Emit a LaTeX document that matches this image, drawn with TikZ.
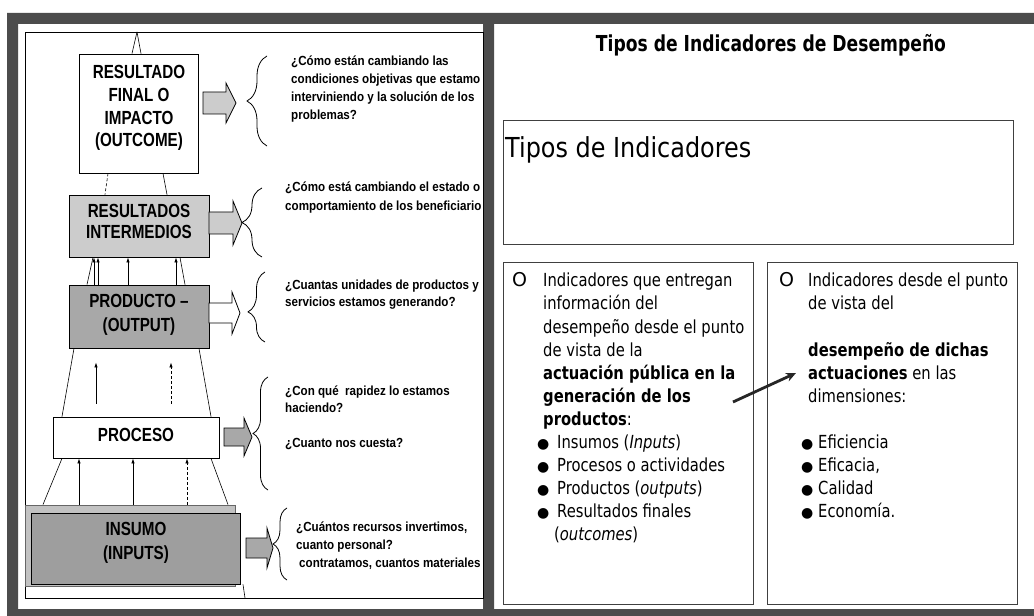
\documentclass[tikz,border=0pt]{standalone}
\usepackage{fontspec}
\setmainfont{Liberation Sans}
\newfontfamily\boxfont[FakeStretch=0.8]{Liberation Sans}
\newfontfamily\qfont[FakeStretch=0.88]{Liberation Sans}
\newfontfamily\tfont[FakeStretch=0.82]{DejaVu Sans}
\newfontfamily\titlefont[FakeStretch=0.78]{DejaVu Sans}
\newfontfamily\bigfont[FakeStretch=0.87]{DejaVu Sans}
\newfontfamily\symfont{DejaVu Sans}
\usetikzlibrary{arrows.meta,decorations.pathreplacing,calc}
\definecolor{bandgray}{gray}{0.3}
\definecolor{ligray}{gray}{0.8}
\definecolor{midgray}{gray}{0.66}
\definecolor{dkgray}{gray}{0.62}
\definecolor{backgray}{gray}{0.76}
\newcommand{\fatarrow}[7]{%
  \draw[blockarrow, fill=#7] (#1,#4-#5) -- (#2,#4-#5) -- (#2,#4-#6) -- (#3,#4) -- (#2,#4+#6) -- (#2,#4+#5) -- (#1,#4+#5) -- cycle;}
\newcommand{\mybulA}{\makebox[20bp][l]{\symfont\fontsize{14bp}{14bp}\selectfont ●}}
\newcommand{\mybulB}{\makebox[17bp][l]{\symfont\fontsize{14bp}{14bp}\selectfont ●}}
\begin{document}
\begin{tikzpicture}[x=1bp,y=-1bp,
  box/.style={draw=black, line width=0.9bp, inner sep=0pt},
  boxtext/.style={inner sep=0pt, align=center, font={\boxfont\bfseries\fontsize{19bp}{22.5bp}\selectfont}},
  question/.style={anchor=base west, inner sep=0pt},
  blockarrow/.style={draw=black, line width=0.8bp, line join=miter},
  uparrow/.style={line width=0.7bp, -{Latex[length=5bp,width=3.5bp]}},
  edge/.style={line width=0.6bp},
  bracestyle/.style={line width=0.8bp, decorate},
  panelbox/.style={draw=black!75, line width=0.9bp, inner sep=0pt},
  paneltext/.style={anchor=base west, inner sep=0pt},
  thickarrow/.style={line width=2.8bp, -{Stealth[length=10bp,width=9bp]}, black!85}
]
\useasboundingbox (0,0) rectangle (1034,616);
\fill[white] (0,0) rectangle (1034,616);
% frame band
\fill[bandgray, even odd rule] (7,13) rectangle (1034,616)
  (18,24) rectangle (483,609) (494,24) rectangle (1034,609);
% left panel inner frame
\draw[line width=0.9bp] (25,32) rectangle (483,598);

\begin{scope}
\clip (18,24) rectangle (483,609);
% boxes
\node[box, fill=white, minimum width=119bp, minimum height=119bp] (impacto) at (138.5,113.5) {};
\node[box, fill=ligray, minimum width=140bp, minimum height=62bp] (interm) at (139,226) {};
\node[box, fill=midgray, minimum width=140bp, minimum height=63bp] (producto) at (139,316.5) {};
\node[box, fill=white, minimum width=166bp, minimum height=41bp] (proceso) at (136,437.5) {};
\node[box, fill=backgray, draw=black!60, minimum width=210bp, minimum height=81bp] (insumoback) at (130,545.5) {};
\node[box, fill=dkgray, minimum width=209bp, minimum height=71bp] (insumo) at (135.5,548.5) {};
% box texts
\node[boxtext, font={\boxfont\bfseries\fontsize{19bp}{22.7bp}\selectfont}] (impactoT) at (139,108) {RESULTADO\\FINAL O\\IMPACTO\\(OUTCOME)};
\node[boxtext, font={\boxfont\bfseries\fontsize{19bp}{21.5bp}\selectfont}] (intermT) at (139,221.5) {RESULTADOS\\INTERMEDIOS};
\node[boxtext, font={\boxfont\bfseries\fontsize{19bp}{24bp}\selectfont}] (productoT) at (139,314.5) {PRODUCTO –\\(OUTPUT)};
\node[boxtext] (procesoT) at (136,434.5) {PROCESO};
\node[boxtext, font={\boxfont\bfseries\fontsize{19bp}{24bp}\selectfont}] (insumoT) at (136,543) {INSUMO\\(INPUTS)};

% pyramid edges
\coordinate (apex) at (137,32);
\coordinate (frameB) at (245,598);
\draw[edge] (impacto.north -| 132,0) -- (apex);
\draw[edge] (impacto.north -| 141,0) -- (apex);
\draw[edge, densely dashed] (impacto.south -| 108,0) -- (interm.north -| 105,0);
\draw[edge] (impacto.south -| 163,0) -- (interm.north -| 167,0);
\draw[edge] (interm.south -| 93,0) -- (producto.north -| 87,0);
\draw[edge] (interm.south -| 180,0) -- (producto.north -| 185,0);
\draw[edge] (producto.south -| 74,0) -- (proceso.north -| 62,0);
\draw[edge] (producto.south -| 199,0) -- (proceso.north -| 211,0);
\draw[edge] (proceso.south -| 62,0) -- (insumoback.north -| 43,0);
\draw[edge] (proceso.south -| 211,0) -- (insumoback.north -| 228,0);
\draw[edge] (insumo.south -| 243,0) -- (frameB);

% small up arrows
\draw[uparrow] (producto.north -| 94,0) -- (interm.south -| 94,0);
\draw[uparrow] (producto.north -| 98,0) -- (interm.south -| 98,0);
\draw[uparrow] (producto.north -| 128,0) -- (interm.south -| 128,0);
\draw[uparrow] (producto.north -| 176,0) -- (interm.south -| 176,0);
\draw[uparrow, shorten <=13bp, shorten >=14bp] (proceso.north -| 96,0) -- (producto.south -| 96,0);
\draw[uparrow, densely dashed, shorten <=13bp, shorten >=14bp] (proceso.north -| 171,0) -- (producto.south -| 171,0);
\draw[uparrow] (insumoback.north -| 79,0) -- (proceso.south -| 79,0);
\draw[uparrow] (insumoback.north -| 133,0) -- (proceso.south -| 133,0);
\draw[uparrow, densely dashed] (insumoback.north -| 187,0) -- (proceso.south -| 187,0);

% block arrows
\fatarrow{203}{226}{236}{103}{11}{20}{ligray}
\fatarrow{209}{233}{242}{223}{11}{22}{ligray}
\fatarrow{209}{232}{240}{313}{10}{21}{white}
\fatarrow{224}{244}{252}{437}{9}{19}{midgray}
\fatarrow{246}{267}{273}{548}{10}{20}{midgray}

% braces
\draw[bracestyle, decoration={brace, amplitude=20bp}] (267,146) -- (267,56);
\draw[bracestyle, decoration={brace, amplitude=20bp}] (262,257) -- (262,188);
\draw[bracestyle, decoration={brace, amplitude=17bp, aspect=0.43}] (265,342) -- (265,272);
\draw[bracestyle, decoration={brace, amplitude=15bp}] (268,490) -- (268,377);
\draw[bracestyle, decoration={brace, amplitude=14bp}] (287,580) -- (287,508);

% questions
\node[question] (q1) at (291,66) {\qfont\bfseries\fontsize{13.2bp}{18bp}\selectfont
  \begin{tabular}[t]{@{}l@{}}¿Cómo están cambiando las\\condiciones objetivas que estamo\\interviniendo y la solución de los\\problemas?\end{tabular}};
\node[question] (q2) at (285,192) {\qfont\bfseries\fontsize{13.2bp}{19bp}\selectfont
  \begin{tabular}[t]{@{}l@{}}¿Cómo está cambiando el estado o\\comportamiento de los beneficiario\end{tabular}};
\node[question] (q3) at (285,290) {\qfont\bfseries\fontsize{13.2bp}{17bp}\selectfont
  \begin{tabular}[t]{@{}l@{}}¿Cuantas unidades de productos y\\servicios estamos generando?\end{tabular}};
\node[question] (q4) at (285,395) {\qfont\bfseries\fontsize{13.2bp}{17bp}\selectfont
  \begin{tabular}[t]{@{}l@{}}¿Con qué\ \ rapidez lo estamos\\haciendo?\end{tabular}};
\node[question] (q4b) at (285,447) {\qfont\bfseries\fontsize{13.2bp}{17bp}\selectfont ¿Cuanto nos cuesta?};
\node[question] (q5) at (296,531) {\qfont\bfseries\fontsize{13.2bp}{18bp}\selectfont
  \begin{tabular}[t]{@{}l@{}}¿Cuántos recursos invertimos,\\cuanto personal?\\\hspace*{3bp}contratamos, cuantos materiales\end{tabular}};
\end{scope}

% right panel
\node[anchor=base, inner sep=0pt, font={\titlefont\bfseries\fontsize{22bp}{24bp}\selectfont}] (title) at (771,52) {Tipos de Indicadores de Desempeño};
\node[panelbox, minimum width=510bp, minimum height=124bp] (topbox) at (758,182) {};
\node[paneltext, font={\bigfont\fontsize{27.5bp}{30bp}\selectfont}] (toptext) at (505,158) {Tipos de Indicadores};
\node[panelbox, minimum width=250bp, minimum height=342bp] (leftbox) at (628,433) {};
\node[panelbox, minimum width=250bp, minimum height=342bp] (rightbox) at (892,433) {};

\node[paneltext, font={\symfont\fontsize{19bp}{19bp}\selectfont}] (o1) at (512,287) {O};
\node[paneltext, font={\symfont\fontsize{19bp}{19bp}\selectfont}] (o2) at (779,287) {O};

\node[paneltext] (ltext) at (543,287) {\tfont\fontsize{18bp}{23bp}\selectfont
  \begin{tabular}[t]{@{}l@{}}
  Indicadores que entregan\\
  información del\\
  desempeño desde el punto\\
  de vista de la\\
  \textbf{actuación pública en la}\\
  \textbf{generación de los}\\
  \textbf{productos}:\\
  \hspace*{-6bp}\mybulA Insumos (\textit{Inputs})\\
  \hspace*{-6bp}\mybulA Procesos o actividades\\
  \hspace*{-6bp}\mybulA Productos (\textit{outputs})\\
  \hspace*{-6bp}\mybulA Resultados finales\\
  \hspace*{11bp}(\textit{outcomes})
  \end{tabular}};

\node[paneltext] (rtext) at (808,287) {\tfont\fontsize{18bp}{23bp}\selectfont
  \begin{tabular}[t]{@{}l@{}}
  Indicadores desde el punto\\
  de vista del\\
  \\
  \textbf{desempeño de dichas}\\
  \textbf{actuaciones} en las\\
  dimensiones:\\
  \\
  \hspace*{-7bp}\mybulB Eficiencia\\
  \hspace*{-7bp}\mybulB Eficacia,\\
  \hspace*{-7bp}\mybulB Calidad\\
  \hspace*{-7bp}\mybulB Economía.
  \end{tabular}};

\coordinate (aS) at (733,402);
\coordinate (aE) at (796,373);
\draw[thickarrow] (aS) -- (aE);
\end{tikzpicture}
\end{document}
